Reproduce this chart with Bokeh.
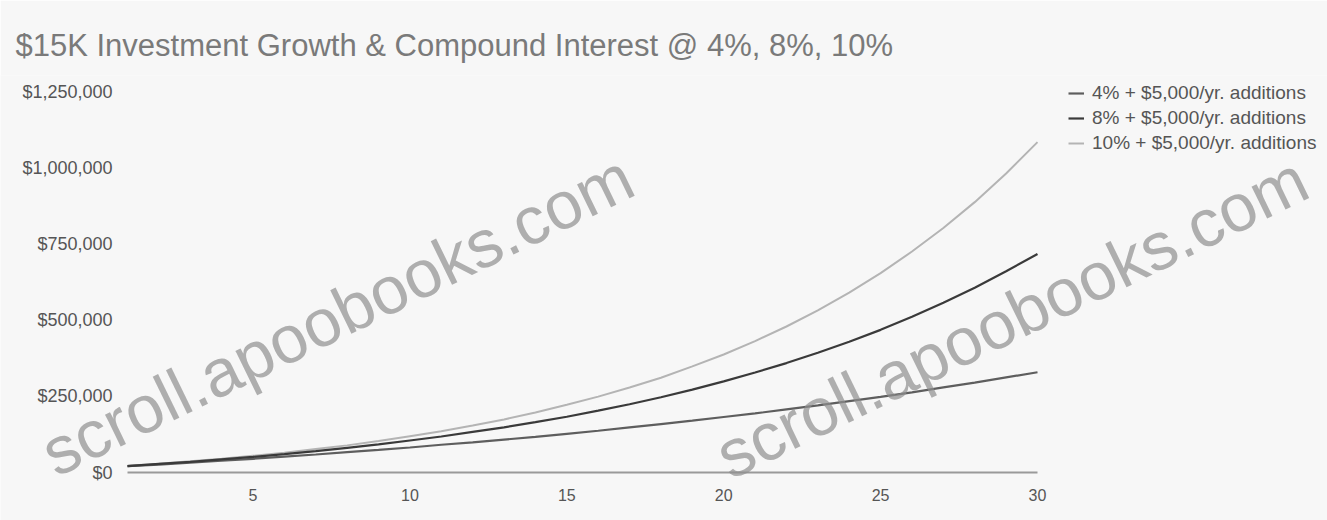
from bokeh.plotting import figure
from bokeh.models import (Range1d, FixedTicker, NumeralTickFormatter, Legend, LegendItem,
                          Label, Title, ColumnDataSource)
from bokeh.embed import file_html
from bokeh.resources import INLINE
import math

# ---- data ----
years = list(range(1, 31))
rate_4 = [21000, 26000, 32000, 39000, 45000, 52000, 59000, 67000, 74000, 82000,
          91000, 99000, 108000, 117000, 127000, 137000, 148000, 159000, 170000, 182000,
          194000, 207000, 220000, 234000, 248000, 263000, 279000, 295000, 312000, 329000]
rate_8 = [21000, 28000, 35000, 43000, 51000, 60000, 70000, 81000, 92000, 105000,
          118000, 133000, 148000, 165000, 183000, 203000, 224000, 247000, 272000, 299000,
          328000, 359000, 393000, 429000, 468000, 511000, 557000, 606000, 660000, 717000]
rate_10 = [22000, 29000, 37000, 45000, 55000, 65000, 77000, 89000, 103000, 119000,
           135000, 154000, 174000, 197000, 222000, 249000, 279000, 311000, 348000, 387000,
           431000, 479000, 532000, 590000, 654000, 725000, 802000, 887000, 981000, 1084000]
series_labels = ["4% + $5,000/yr. additions", "8% + $5,000/yr. additions", "10% + $5,000/yr. additions"]
x_ticks = [5, 10, 15, 20, 25, 30]
y_ticks = [0, 250000, 500000, 750000, 1000000, 1250000]
title_text = "$15K Investment Growth & Compound Interest @ 4%, 8%, 10%"
watermark = "scroll.apoobooks.com"

FONT = "Liberation Sans"
BG = "#f7f7f7"
W, H = 1327, 520
TOP = 75  # height reserved for the title
# layout: plotted area spans pixels 127..1037 (years 1..30) and 91..472 ($1.25M..$0)
PX_LEFT, PX_RIGHT, PX_TOP, PX_BOTTOM = 127, 1037, 91, 472
X0, X1 = years[0], years[-1]
Y0, Y1 = y_ticks[0], y_ticks[-1]
kx = (X1 - X0) / (PX_RIGHT - PX_LEFT)
ky = (Y1 - Y0) / (PX_BOTTOM - PX_TOP)
x_start, x_end = X0 - PX_LEFT * kx, X1 + (W - PX_RIGHT) * kx
y_start, y_end = Y0 - (H - PX_BOTTOM) * ky, Y1 + (PX_TOP - TOP) * ky

p = figure(width=W, height=H, output_backend="svg", toolbar_location=None,
           x_range=Range1d(x_start, x_end), y_range=Range1d(y_start, y_end),
           min_border_left=0, min_border_right=0, min_border_top=TOP, min_border_bottom=0)
p.background_fill_color = BG
p.border_fill_color = BG
p.outline_line_color = None
p.xgrid.grid_line_color = None
p.ygrid.grid_line_color = None

p.title = Title(text=title_text, align="left", offset=15, standoff=26,
                text_font=FONT, text_font_size="31px", text_font_style="normal",
                text_color="#7a7a7a")

# axes
xa = p.xaxis[0]
xa.fixed_location = Y0
xa.ticker = FixedTicker(ticks=x_ticks)
xa.bounds = (X0, X1)
xa.axis_line_color = "#9a9a9a"
xa.axis_line_width = 2
xa.major_tick_line_color = None
xa.minor_tick_line_color = None
xa.major_label_standoff = 10
xa.major_label_text_font = FONT
xa.major_label_text_font_size = "16px"
xa.major_label_text_color = "#555555"

ya = p.yaxis[0]
ya.fixed_location = X0
ya.ticker = FixedTicker(ticks=y_ticks)
ya.formatter = NumeralTickFormatter(format="$0,0")
ya.axis_line_color = None
ya.major_tick_line_color = None
ya.minor_tick_line_color = None
ya.major_label_standoff = 9
ya.major_label_text_font = FONT
ya.major_label_text_font_size = "18px"
ya.major_label_text_color = "#555555"

src = ColumnDataSource(dict(year=years, r4=rate_4, r8=rate_8, r10=rate_10))
colors = ["#5e5e5e", "#3a3a3a", "#b4b4b4"]
r10 = p.line("year", "r10", source=src, line_color=colors[2], line_width=2)
r4 = p.line("year", "r4", source=src, line_color=colors[0], line_width=2.2)
r8 = p.line("year", "r8", source=src, line_color=colors[1], line_width=2.2)

# watermark text
for (wx, wy) in [(-1.6, 52000), (19.9, 44000)]:
    p.add_layout(Label(x=wx, y=wy, text=watermark, angle=math.radians(26),
                       text_font=FONT, text_font_size="67px", text_color="#8e8e8e",
                       text_alpha=0.7, text_baseline="alphabetic"))

legend = Legend(items=[LegendItem(label=series_labels[0], renderers=[r4]),
                       LegendItem(label=series_labels[1], renderers=[r8]),
                       LegendItem(label=series_labels[2], renderers=[r10])],
                location=(1068, H - 154), orientation="vertical",
                background_fill_alpha=0, border_line_color=None,
                padding=0, margin=0, spacing=3, glyph_width=16, glyph_height=20,
                label_height=20, label_standoff=8,
                label_text_font=FONT, label_text_font_size="19px", label_text_color="#555555")
p.add_layout(legend, "center")

open("out.html", "w").write(file_html(p, INLINE))
